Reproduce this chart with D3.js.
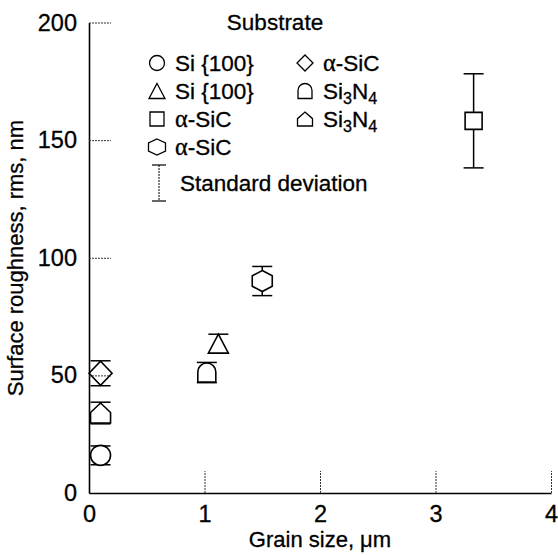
<!DOCTYPE html>
<html><head><meta charset="utf-8">
<script src="https://cdn.jsdelivr.net/npm/d3@7"></script>
<style>
html,body{margin:0;padding:0;background:#fff;}
svg{display:block;font-family:"Liberation Sans",Arial,Helvetica,sans-serif;}
svg text{stroke:#000;stroke-width:0.3px;fill:#000;}
</style></head>
<body>
<svg id="chart" width="558" height="555"></svg>
<script>
// ---- data ----
const substrates = ["Si {100}", "Si {100}", "α-SiC", "α-SiC", "α-SiC", "Si3N4", "Si3N4"];
const markerShapes = ["circle", "triangle", "square", "hexagon", "diamond", "arch", "house"];
const grainSize = [0.1, 1.12, 3.33, 1.5, 0.1, 1.02, 0.1];
const roughness = [16, 63.5, 158.2, 90.1, 50.9, 51.2, 34];
const stdDev = [4, 4, 20, 6.2, 5.3, 4.3, 4.6];
const xTicks = [0, 1, 2, 3, 4];
const yTicks = [0, 50, 100, 150, 200];
const legendTitle = "Substrate";
const stdLabel = "Standard deviation";
const xTitle = "Grain size, μm";
const yTitle = "Surface roughness, rms, nm";

const svg = d3.select("#chart");
const x = d3.scaleLinear().domain([0, 4]).range([89, 551]);
const y = d3.scaleLinear().domain([0, 200]).range([493, 22.5]);

// shape path generator, w = width, h = height, centred at 0,0
function shapePath(shape, w, h) {
  const a = w / 2, b = h / 2;
  switch (shape) {
    case "triangle": return `M0,${-b}L${a},${b}L${-a},${b}Z`;
    case "square": return `M${-a},${-b}H${a}V${b}H${-a}Z`;
    case "hexagon": return `M0,${-b}L${a},${-b/2}V${b/2}L0,${b}L${-a},${b/2}V${-b/2}Z`;
    case "diamond": return `M0,${-b}L${a},0L0,${b}L${-a},0Z`;
    case "arch": return `M${-a},${b}V${-b + a}A${a},${a} 0 0 1 ${a},${-b + a}V${b}Z`;
    case "house": return `M0,${-b}L${a},${-b*0.05}V${b}H${-a}V${-b*0.05}Z`;
    default: return `M${-a},0A${a},${b} 0 1 1 ${a},0A${a},${b} 0 1 1 ${-a},0Z`;
  }
}
const dataSize = {circle:[20,20], triangle:[20,19], square:[17,17], hexagon:[20,21], diamond:[23,24], arch:[18,19], house:[20,20]};
const legSize = {circle:[15,15], triangle:[16,15], square:[14,14], hexagon:[17,16], diamond:[16,16], arch:[14,15], house:[15,14]};

// label with subscripts / serif alpha
function richText(sel, label) {
  const segs = [];
  for (let i = 0; i < label.length; i++) {
    const ch = label[i];
    const isSub = /^Si\dN\d$/.test(label) && /\d/.test(ch);
    const isAlpha = ch === "α";
    const type = isSub ? "sub" : isAlpha ? "alpha" : "n";
    if (segs.length && segs[segs.length - 1].type === type) segs[segs.length - 1].t += ch;
    else segs.push({type, t: ch});
  }
  let prevSub = false;
  segs.forEach(s => {
    const ts = sel.append("tspan").text(s.t);
    if (s.type === "sub") { ts.attr("font-size", "0.72em").attr("dy", "0.28em"); prevSub = true; }
    else {
      if (prevSub) ts.attr("dy", "-0.2em");
      prevSub = false;
      if (s.type === "alpha") ts.attr("font-family", "'Liberation Serif','Times New Roman',serif").attr("font-size", "1.08em");
    }
  });
}

// ---- error bars ----
const capW = 20;
const g = svg.append("g");
const idx = d3.range(grainSize.length);
const eb = g.selectAll(".eb").data(idx).join("g").attr("class", "eb");
eb.append("line")
  .attr("x1", i => x(grainSize[i])).attr("x2", i => x(grainSize[i]))
  .attr("y1", i => y(roughness[i] + stdDev[i])).attr("y2", i => y(roughness[i] - stdDev[i]))
  .attr("stroke", "#000").attr("stroke-width", 1.5);
[1, -1].forEach(s => {
  eb.append("line")
    .attr("x1", i => x(grainSize[i]) - capW / 2).attr("x2", i => x(grainSize[i]) + capW / 2)
    .attr("y1", i => y(roughness[i] + s * stdDev[i])).attr("y2", i => y(roughness[i] + s * stdDev[i]))
    .attr("stroke", "#000").attr("stroke-width", 1.5);
});
// ---- markers ----
g.selectAll(".mk").data(idx).join("path").attr("class", "mk")
  .attr("transform", i => `translate(${x(grainSize[i])},${y(roughness[i])})`)
  .attr("d", i => { const s = dataSize[markerShapes[i]]; return shapePath(markerShapes[i], s[0], s[1]); })
  .attr("fill", "#fff").attr("stroke", "#000").attr("stroke-width", 1.6);

// ---- axes ----
const yAxis = d3.axisLeft(y).tickValues(yTicks).tickSize(-22).tickSizeOuter(0).tickPadding(12).tickFormat(d3.format("d"));
const xAxis = d3.axisBottom(x).tickValues(xTicks).tickSize(-22).tickSizeOuter(0).tickPadding(12).tickFormat(d3.format("d"));
const ya = svg.append("g").attr("transform", "translate(89,0)").call(yAxis);
const xa = svg.append("g").attr("transform", "translate(0,493)").call(xAxis);
[ya, xa].forEach(a => {
  a.select(".domain").attr("stroke", "#000").attr("stroke-width", 1.6);
  a.selectAll(".tick line").attr("stroke", "#333").attr("stroke-width", 1).attr("stroke-dasharray", "2,1");
  a.selectAll(".tick text").attr("fill", "#000").attr("font-size", 23.5).attr("font-family", "'Liberation Sans',Arial,sans-serif");
});
ya.selectAll(".tick").filter(d => d === 0).select("line").remove();
xa.selectAll(".tick").filter(d => d === 0).select("line").remove();

// axis titles
svg.append("text").attr("x", 320).attr("y", 547).attr("text-anchor", "middle")
  .attr("font-size", 22).text(xTitle);
svg.append("text").attr("transform", "translate(23,258) rotate(-90)").attr("text-anchor", "middle")
  .attr("font-size", 22).text(yTitle);

// ---- legend ----
const leg = svg.append("g");
leg.append("text").attr("x", 275).attr("y", 30).attr("text-anchor", "middle").attr("font-size", 22.5).text(legendTitle);
const legPos = [[0,0],[0,1],[0,2],[0,3],[1,0],[1,1],[1,2]];
const colX = [157, 305], rowY = [63, 91, 119, 147];
idx.forEach(i => {
  const [c, r] = legPos[i];
  const sh = markerShapes[i], s = legSize[sh];
  leg.append("path").attr("transform", `translate(${colX[c]},${rowY[r]})`)
    .attr("d", shapePath(sh, s[0], s[1])).attr("fill", "#fff").attr("stroke", "#000").attr("stroke-width", 1.3);
  const t = leg.append("text").attr("x", colX[c] + 18).attr("y", rowY[r]).attr("dy", "0.36em").attr("font-size", 22.5);
  richText(t, substrates[i]);
});
// std dev sample
const sdx = 159, sdy1 = 165, sdy2 = 201;
leg.append("line").attr("x1", sdx).attr("x2", sdx).attr("y1", sdy1).attr("y2", sdy2)
  .attr("stroke", "#000").attr("stroke-width", 1).attr("stroke-dasharray", "2,1");
[sdy1, sdy2].forEach(yy => leg.append("line").attr("x1", sdx - 7).attr("x2", sdx + 7).attr("y1", yy).attr("y2", yy)
  .attr("stroke", "#000").attr("stroke-width", 1.2));
leg.append("text").attr("x", 180).attr("y", 183).attr("dy", "0.36em").attr("font-size", 22.5).text(stdLabel);
</script>
</body></html>
